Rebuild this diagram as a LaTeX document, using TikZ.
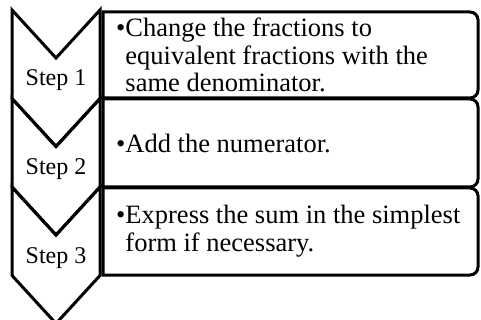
\documentclass[tikz,border=0pt]{standalone}
\usepackage{fontspec}
\setmainfont{Liberation Serif}
\newfontfamily\timesfont{Liberation Serif}
\newcommand\bul{\makebox[0.35em][l]{\textbullet}}
\newcommand\hang{\hspace*{0.35em}}

\begin{document}
\begin{tikzpicture}[x=1pt,y=-1pt,line join=miter,
  outline/.style={line width=3pt},
  steplabel/.style={anchor=base,inner sep=0pt,font=\timesfont\fontsize{24}{27}\selectfont},
  itemtext/.style={anchor=west,align=left,inner sep=0pt,font=\timesfont\fontsize{26.5}{27.5}\selectfont}]
\useasboundingbox (0,0) rectangle (481,320);
% chevrons down the left
\foreach \t/\b in {10/98.5,98.5/187,187/275.5}
  \draw[outline] (12,\t) -- (56,\t+48) -- (100,\t) -- (100,\b) -- (56,\b+48) -- (12,\b) -- cycle;
% boxes, rounded on the right only
\foreach \t/\b in {12/98,99/187,188/275}
  \draw[outline] (103,\b) -- (103,\t) -- (440,\t) [rounded corners=8pt] -- (478,\t) -- (478,\b) -- (440,\b) [sharp corners] -- cycle;
\node[steplabel] (s1) at (56,86) {Step 1};
\node[steplabel] (s2) at (56,174.5) {Step 2};
\node[steplabel] (s3) at (56,263) {Step 3};
\node[itemtext] (t1) at (116,55) {\bul Change the fractions to\\ \hang equivalent fractions with the\\ \hang same denominator.};
\node[itemtext] (t2) at (116,143) {\bul Add the numerator.};
\node[itemtext] (t3) at (116,231) {\bul Express the sum in the simplest\\ \hang form if necessary.};
\end{tikzpicture}
\end{document}
